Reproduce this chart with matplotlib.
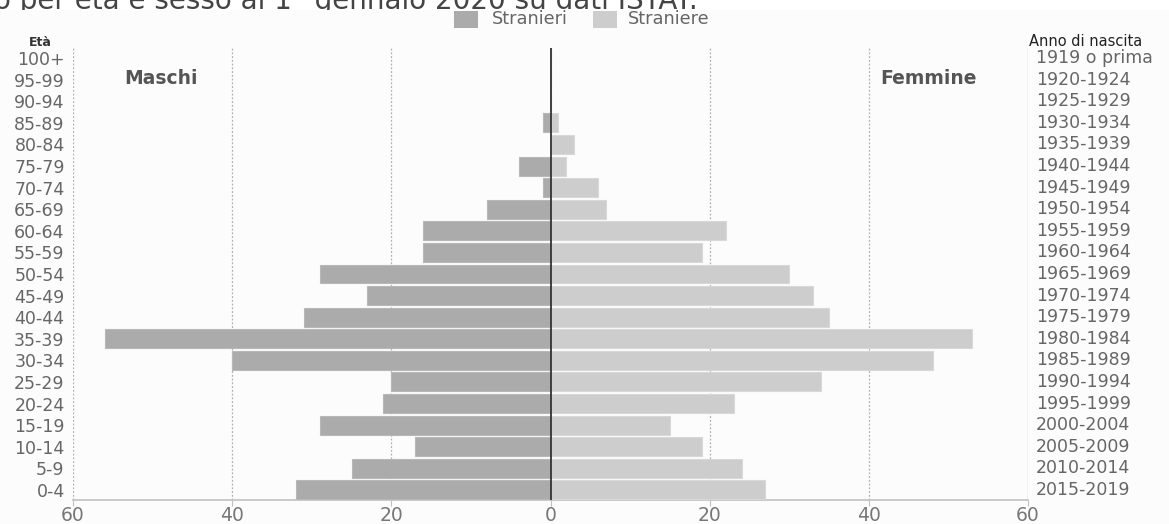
import matplotlib
matplotlib.use("Agg")
import matplotlib.pyplot as plt
from matplotlib.transforms import Bbox, TransformedBbox
import numpy as np

plt.rcParams['font.family'] = ['DejaVu Sans']

age_groups = ["0-4", "5-9", "10-14", "15-19", "20-24", "25-29", "30-34", "35-39",
              "40-44", "45-49", "50-54", "55-59", "60-64", "65-69", "70-74",
              "75-79", "80-84", "85-89", "90-94", "95-99", "100+"]
birth_years = ["2015-2019", "2010-2014", "2005-2009", "2000-2004", "1995-1999",
               "1990-1994", "1985-1989", "1980-1984", "1975-1979", "1970-1974",
               "1965-1969", "1960-1964", "1955-1959", "1950-1954", "1945-1949",
               "1940-1944", "1935-1939", "1930-1934", "1925-1929", "1920-1924",
               "1919 o prima"]
males = [32, 25, 17, 29, 21, 20, 40, 56, 31, 23, 29, 16, 16, 8, 1, 4, 0, 1, 0, 0, 0]
females = [27, 24, 19, 15, 23, 34, 48, 53, 35, 33, 30, 19, 22, 7, 6, 2, 3, 1, 0, 0, 0]
x_ticks = [-60, -40, -20, 0, 20, 40, 60]
x_tick_labels = ["60", "40", "20", "0", "20", "40", "60"]

W, H = 1169, 524
fig = plt.figure(figsize=(W / 100, H / 100), dpi=100)
fig.patch.set_facecolor("white")

# light panel background
fig.patches.append(plt.Rectangle((0, 0), 1, (H - 10) / H, transform=fig.transFigure,
                                 facecolor="#fcfcfc", edgecolor="none", zorder=-10))

ax = fig.add_axes([73 / W, (H - 500) / H, (1028 - 73) / W, (500 - 48) / H])
ax.set_facecolor("none")

y = np.arange(len(age_groups))
ax.barh(y, [-m for m in males], height=0.88, color="#ababab", edgecolor="#b8b8b8",
        linewidth=0.8, zorder=3)
ax.barh(y, females, height=0.88, color="#cdcdcd", edgecolor="#d8d8d8",
        linewidth=0.8, zorder=3)

ax.set_xlim(-60, 60)
ax.set_ylim(-0.47, len(age_groups) - 0.53)

for gx in [-60, -40, -20, 20, 40]:
    ax.axvline(gx, color="#b0b0b0", linestyle=(0, (1.5, 1.5)), linewidth=0.9, zorder=1)
ax.axvline(60, color="#c8c8c8", linewidth=1.0, zorder=1)
ax.axvline(0, color="#333333", linewidth=1.3, zorder=4)

for s in ["top", "left", "right"]:
    ax.spines[s].set_visible(False)
ax.spines["bottom"].set_color("#c0c0c0")
ax.spines["bottom"].set_linewidth(1.2)

ax.set_xticks(x_ticks)
ax.set_xticklabels(x_tick_labels)
ax.tick_params(axis="x", colors="#c0c0c0", labelcolor="#777777", labelsize=13.5,
               length=4, pad=0)
ax.set_yticks(y)
ax.set_yticklabels(age_groups)
ax.tick_params(axis="y", length=0, labelcolor="#666666", labelsize=12.5, pad=6)

for yi, lab in zip(y, birth_years):
    ax.text(1.008, yi, lab, transform=ax.get_yaxis_transform(), ha="left",
            va="center", fontsize=12.5, color="#666666")

fig.text(40 / W, (H - 42) / H, "Età", fontsize=9, fontweight="bold",
         color="#333333", ha="center", va="center")
fig.text(1029 / W, (H - 42) / H, "Anno di nascita", fontsize=10.5, color="#222222",
         ha="left", va="center")

fig.text(161 / W, (H - 78) / H, "Maschi", fontsize=13.5, fontweight="bold",
         color="#555555", ha="center", va="center")
fig.text(928 / W, (H - 78) / H, "Femmine", fontsize=13.5, fontweight="bold",
         color="#555555", ha="center", va="center")

# legend
fig.patches.append(plt.Rectangle((454 / W, (H - 28) / H), 24 / W, 17 / H,
                                 transform=fig.transFigure, facecolor="#ababab",
                                 edgecolor="none"))
fig.text(492 / W, (H - 19.5) / H, "Stranieri", fontsize=12.8, color="#666666",
         ha="left", va="center")
fig.patches.append(plt.Rectangle((593 / W, (H - 28) / H), 24 / W, 17 / H,
                                 transform=fig.transFigure, facecolor="#cdcdcd",
                                 edgecolor="none"))
fig.text(628 / W, (H - 19.5) / H, "Straniere", fontsize=12.8, color="#666666",
         ha="left", va="center")

# clipped title (only its lower part is visible in the reference)
title = fig.text(-6 / W, (H - 9) / H, "o per età e sesso al 1° gennaio 2020 su dati ISTAT.",
                 fontsize=20, color="#444444", ha="left", va="baseline")
title.set_clip_box(TransformedBbox(Bbox([[0, (H - 10) / H], [1, 1]]), fig.transFigure))

fig.savefig("out.png", dpi=100)
